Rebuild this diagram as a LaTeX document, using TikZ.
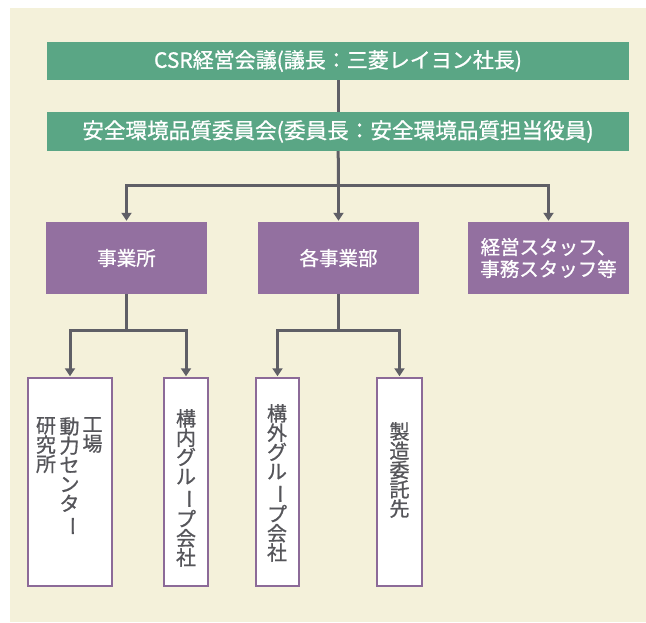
\documentclass[tikz,border=0pt]{standalone}
\usepackage{fontspec}
\newfontfamily\jp[FakeBold=0.9]{Noto Sans CJK JP}
\usetikzlibrary{arrows.meta}
\definecolor{bg}{HTML}{F4F1DA}
\definecolor{grn}{HTML}{5AA685}
\definecolor{prp}{HTML}{9370A0}
\definecolor{ln}{HTML}{5F5F66}
\definecolor{bdr}{HTML}{8C6A98}
\definecolor{txt}{HTML}{55555A}
\newcommand\vbar{\rotatebox[origin=c]{-90}{ー}}
\begin{document}
\begin{tikzpicture}[x=1pt,y=-1pt,
  gbox/.style={fill=grn, draw=none, minimum width=582pt, minimum height=38pt, inner sep=0, text=white, font=\jp\fontsize{21}{22}\selectfont},
  pbox/.style={fill=prp, draw=none, minimum width=161pt, minimum height=72pt, inner sep=0, text=white, align=center, font=\jp\fontsize{19.5}{22}\selectfont},
  wbox/.style={fill=white, draw=bdr, line width=1.5pt, inner sep=0, minimum height=208pt},
  vtxt/.style={align=center, inner sep=0, text=txt, anchor=north, font=\jp\fontsize{20}{19.3}\selectfont},
  conn/.style={draw=ln, line width=3pt},
  arr/.style={conn, -{Triangle[width=10pt,length=8pt]}, shorten >=1pt}]
\useasboundingbox (0,0) rectangle (646,622);
\fill[white] (0,0) rectangle (646,622);
\fill[bg] (10,8) rectangle (646,622);

\node[gbox] (csr) at (338,61) {CSR経営会議(議長：三菱レイヨン社長)};
\node[gbox, minimum height=39pt, font=\jp\fontsize{21.6}{22}\selectfont] (anz) at (338,131.5) {安全環境品質委員会(委員長：安全環境品質担当役員)};

\node[pbox] (jig) at (126.5,258) {事業所};
\node[pbox] (kak) at (338.5,258) {各事業部};
\node[pbox] (kei) at (548.5,258) {経営スタッフ、\\事務スタッフ等};

\node[wbox, minimum width=84pt] (fa) at (70,482) {};
\node[wbox, minimum width=44pt] (kn) at (186,482) {};
\node[wbox, minimum width=43pt] (kg) at (277.5,482) {};
\node[wbox, minimum width=45pt] (sz) at (399.5,482) {};

\node[vtxt] (t1) at (92.5,417) {工\\場};
\node[vtxt] (t2) at (69.5,417) {動\\力\\セ\\ン\\タ\\\vbar};
\node[vtxt] (t3) at (46,417) {研\\究\\所};
\node[vtxt] (t4) at (186,409) {構\\内\\グ\\ル\\\vbar\\プ\\会\\社};
\node[vtxt] (t5) at (277,404) {構\\外\\グ\\ル\\\vbar\\プ\\会\\社};
\node[vtxt] (t6) at (399.5,422) {製\\造\\委\\託\\先};

\coordinate (h1) at (338.5,185);
\coordinate (h2) at (126.5,330);
\coordinate (h3) at (338.5,330);

\draw[conn] (csr) -- (anz);
\draw[conn] (anz) -- (h1);
\draw[arr] (h1) -| (jig);
\draw[arr] (h1) -- (kak);
\draw[arr] (h1) -| (kei);
\draw[conn] (jig) -- (h2);
\draw[arr] (h2) -| (fa);
\draw[arr] (h2) -| (kn);
\draw[conn] (kak) -- (h3);
\draw[arr] (h3) -| (kg);
\draw[arr] (h3) -| (sz);
\end{tikzpicture}
\end{document}
